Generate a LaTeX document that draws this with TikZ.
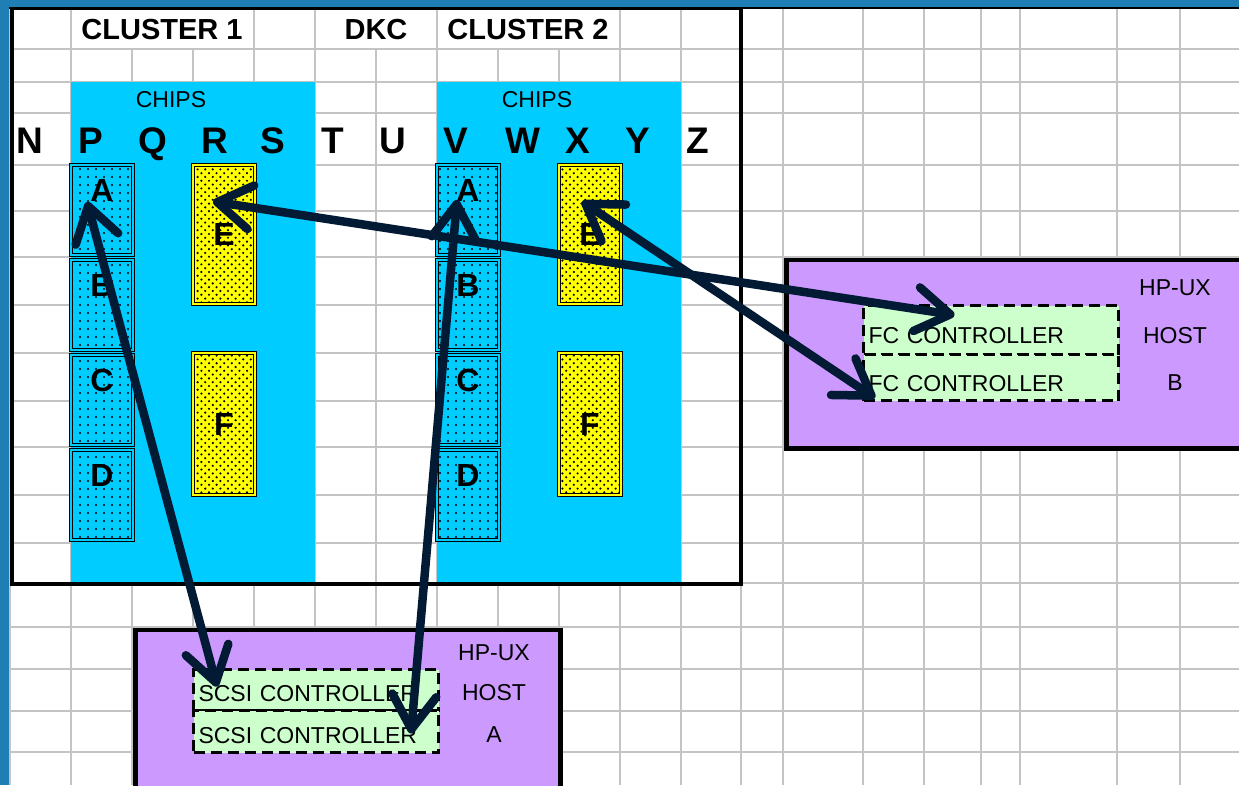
\documentclass[tikz,border=0pt]{standalone}
\usepackage{fontspec}
\setmainfont{Liberation Sans}
\usetikzlibrary{arrows.meta,patterns}

\definecolor{celeste}{HTML}{00CCFF}
\definecolor{amarillo}{HTML}{FFFF00}
\definecolor{lila}{HTML}{CC99FF}
\definecolor{verdeclaro}{HTML}{CCFFCC}
\definecolor{rejilla}{HTML}{C4C4C4}
\definecolor{marco}{HTML}{1F7FB5}
\definecolor{azuloscuro}{HTML}{021A33}

% Tramas de puntos de los chips
\pgfdeclarepatternformonly{puntosazul}{\pgfqpoint{-2pt}{-2pt}}{\pgfqpoint{2pt}{2pt}}{\pgfqpoint{8pt}{8pt}}%
  {\pgfpathcircle{\pgfqpoint{0pt}{0pt}}{1.2pt}\pgfusepath{fill}}
\pgfdeclarepatternformonly{puntosamarillo}{\pgfqpoint{-2pt}{-2pt}}{\pgfqpoint{6pt}{6pt}}{\pgfqpoint{7.6pt}{7.6pt}}%
  {\pgfpathcircle{\pgfqpoint{0pt}{0pt}}{1.2pt}\pgfpathcircle{\pgfqpoint{3.8pt}{3.8pt}}{1.2pt}\pgfusepath{fill}}

\tikzset{
  celda/.style={draw=rejilla, line width=1.5pt},
  chipazul/.style={draw=black, line width=1pt, double=celeste, double distance=2.2pt,
    preaction={fill=celeste}, pattern=puntosazul, minimum width=62pt, minimum height=90pt,
    inner sep=0pt, text height=22pt, text depth=40pt, font=\fontsize{32}{32}\selectfont\bfseries},
  chipamarillo/.style={draw=black, line width=1pt, double=amarillo, double distance=2.2pt,
    preaction={fill=amarillo}, pattern=puntosamarillo, minimum width=62pt,
    inner sep=0pt, font=\fontsize{32}{32}\selectfont\bfseries},
  control/.style={draw=black, line width=3pt, dash pattern=on 11pt off 6pt, fill=verdeclaro,
    anchor=north west, inner xsep=5pt, inner ysep=0pt, align=left, text depth=0pt,
    font=\fontsize{23}{23}\selectfont},
  host/.style={draw=black, line width=4.5pt, fill=lila, anchor=north west, inner sep=0pt},
  titulo/.style={anchor=base, inner sep=0pt, font=\fontsize{29}{29}\selectfont\bfseries},
  columna/.style={anchor=base, inner sep=0pt, font=\fontsize{37}{37}\selectfont\bfseries},
  rotulo/.style={anchor=base, inner sep=0pt, font=\fontsize{23}{23}\selectfont},
  enlace/.style={draw=azuloscuro, line width=8.5pt, line cap=round,
    >={Straight Barb[round,length=34pt,width=44pt]}, <->},
}

\begin{document}
\begin{tikzpicture}[x=1pt,y=-1pt]
        \useasboundingbox (0,0) rectangle (1239,785);
        \clip (0,0) rectangle (1239,785);
        \fill[white] (0,0) rectangle (1239,785);

        % Paso 1: Rejilla de la hoja
        \foreach \y in {49,82,113,165,211,257,305,353,401,447,495,543,583,627,669,711,752}
          \draw[celda] (0,\y) -- (1239,\y);
        \foreach \x in {10,71,254,315,437,620,681,741,783,863,924,981,1020,1117,1180}
          \draw[celda] (\x,8) -- (\x,785);
        \foreach \x in {132,193,376,498,559}
          \draw[celda] (\x,49) -- (\x,785);

        % Paso 2: Zonas de chips de cada cluster
        \fill[celeste] (71,82) rectangle (315,583);
        \fill[celeste] (437,82) rectangle (681,583);

        % Paso 3: Chips A-D (azules) y E-F (amarillos)
        \foreach \col/\x in {p/102, v/468} {
          \foreach \l/\y in {A/210, B/305, C/400, D/495}
            \node[chipazul] (\col\l) at (\x,\y) {\l};
        }
        \foreach \col/\x in {r/224, x/590} {
          \node[chipamarillo, minimum height=139pt] (\col E) at (\x,234.5) {E};
          \node[chipamarillo, minimum height=142pt] (\col F) at (\x,424) {F};
        }

        % Paso 4: Marco del DKC
        \draw[line width=4pt] (11.5,8) rectangle (741,584);

        % Paso 5: Hosts HP-UX con sus controladoras
        \node[host, minimum width=478pt, minimum height=188.5pt] (hostb) at (784,257.5) {};
        \node[host, minimum width=425pt, minimum height=180pt] (hosta) at (133,627.5) {};
        \node[control, text width=245pt, minimum height=49pt, text height=27pt] (fc1) at (862,304) {FC CONTROLLER};
        \node[control, text width=245pt, minimum height=46pt, text height=27pt] (fc2) at (862,353) {FC CONTROLLER};
        \node[control, text width=235pt, minimum height=41pt, text height=23pt] (scsi1) at (192,668) {SCSI CONTROLLER};
        \node[control, text width=235pt, minimum height=42pt, text height=23pt] (scsi2) at (192,709) {SCSI CONTROLLER};
        \foreach \t/\y [count=\i] in {HP-UX/295, HOST/343, B/390}
          \node[rotulo] (hb\i) at (1175,\y) {\t};
        \foreach \t/\y [count=\i] in {HP-UX/660, HOST/700, A/742}
          \node[rotulo] (ha\i) at (494,\y) {\t};

        % Paso 6: Encabezados y letras de columna
        \node[titulo] (cl1) at (162,39) {CLUSTER 1};
        \node[titulo] (dkc) at (376,39) {DKC};
        \node[titulo] (cl2) at (528,39) {CLUSTER 2};
        \node[rotulo] (chips1) at (171,107) {CHIPS};
        \node[rotulo] (chips2) at (537,107) {CHIPS};
        \foreach \l/\x in {N/30, P/91, Q/153, R/215, S/273, T/333, U/393, V/456, W/523, X/578, Y/638, Z/698}
          \node[columna] (col\l) at (\x,153) {\l};

        % Paso 7: Enlaces entre chips y controladoras
        \draw[enlace] ([shift={(-15,-8)}]pA.center) -- ([shift={(25,-3.5)}]scsi1.west);
        \draw[enlace] ([shift={(-11,-10)}]vA.center) -- ([shift={(-29,2)}]scsi2.east);
        \draw[enlace] ([shift={(-11,37)}]rE.north) -- ([shift={(-36.5,11)}]fc1.north);
        \draw[enlace] ([shift={(-8,37)}]xE.north) -- ([shift={(13,-4)}]fc2.south west);

        % Paso 8: Borde de la ventana
        \fill[marco] (0,0) rectangle (1239,7.5);
        \fill[marco] (0,0) rectangle (8.5,785);
        \draw[line width=1.5pt] (8.5,8.2) -- (1239,8.2);
    \end{tikzpicture}
\end{document}
